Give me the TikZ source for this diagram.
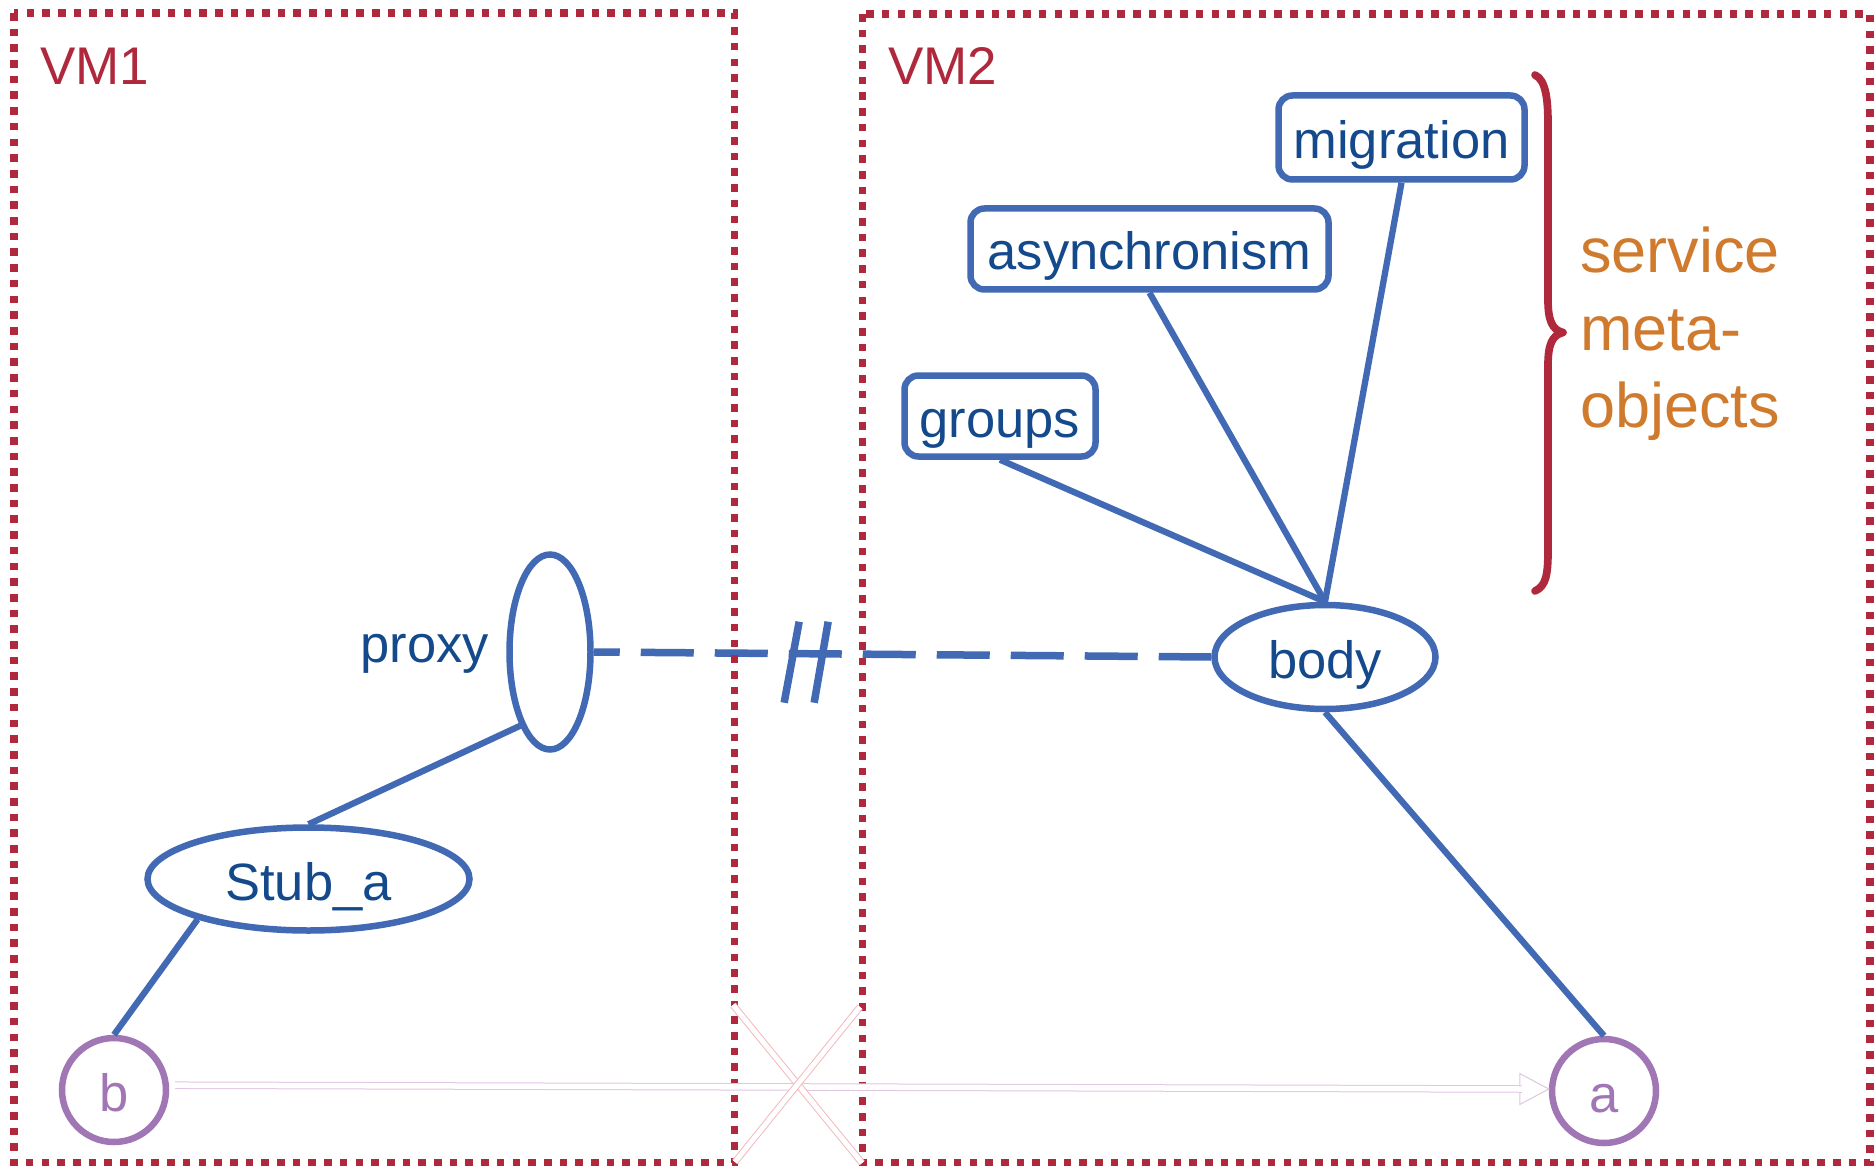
\documentclass[tikz,border=0pt]{standalone}
\usepackage{fontspec}
\setmainfont{Liberation Sans}
\usetikzlibrary{shapes.geometric,calc}

\definecolor{vmred}{RGB}{175,40,60}
\definecolor{blueline}{RGB}{66,106,180}
\definecolor{bluetext}{RGB}{20,74,140}
\definecolor{objpurple}{RGB}{160,118,180}
\definecolor{metaorange}{RGB}{208,122,46}
\definecolor{crosspink}{RGB}{245,185,190}
\definecolor{callpurple}{RGB}{224,198,226}

\begin{document}
\begin{tikzpicture}[x=1pt,y=-1pt,
  vmframe/.style={draw=vmred, line width=7.6pt, dash pattern=on 7.6pt off 8.1pt},
  vmlabel/.style={text=vmred, font=\fontsize{53}{60}\selectfont, anchor=base west, inner sep=0pt},
  plain/.style={text=bluetext, font=\fontsize{52.5}{60}\selectfont, inner sep=0pt},
  txt/.style={plain, text height=42pt, text depth=0pt},
  meta/.style={txt, draw=blueline, line width=6.5pt, rounded corners=14pt, fill=white},
  oval/.style={txt, ellipse, draw=blueline, line width=6.5pt, fill=white},
  obj/.style={circle, draw=objpurple, line width=6.5pt, text=objpurple,
    font=\fontsize{52.5}{60}\selectfont, text height=42pt, text depth=0pt,
    inner sep=0pt, minimum size=104pt},
  link/.style={draw=blueline, line width=6.3pt},
  farlink/.style={draw=blueline, line width=7.5pt, dash pattern=on 53pt off 21pt, dash phase=27pt},
  breakmark/.style={draw=blueline, line width=7.5pt},
  svc/.style={text=metaorange, font=\fontsize{63}{77}\selectfont, anchor=base west, inner sep=0pt},
  calltrace/.style={draw=callpurple, line width=1pt},
  cutmark/.style={draw=crosspink, line width=1pt, double=white, double distance=5pt},
]
\useasboundingbox[fill=white] (0,0) rectangle (1874,1166);

% service meta-objects
\node[meta, minimum width=246pt, minimum height=84pt] (migration) at (1401.5,137.5) {migration};
\node[meta, minimum width=358pt, minimum height=81pt] (async) at (1149.5,249) {asynchronism};
\node[meta, minimum width=191pt, minimum height=81pt] (groups) at (1000,416) {groups};

% active object parts
\node[oval, minimum width=221pt, minimum height=104pt] (body) at (1325,657) {body};
\node[oval, minimum width=81pt, minimum height=195pt] (proxy) at (550,652) {};
\node[plain, anchor=base east] (proxylbl) at (489,662) {proxy};
\node[oval, minimum width=322pt, minimum height=103pt] (stub) at (308.5,879) {Stub\_a};

% objects
\node[obj] (b) at (114,1090) {b};
\node[obj] (a) at (1604,1091) {a};

% solid links
\draw[link] (migration.south) -- (body.north);
\draw[link] (async.south) -- (body.north);
\draw[link] (groups.south) -- (body.north);
\draw[link] (body.south) -- (a.north);
\draw[link] (proxy.248) -- (stub.north);
\draw[link] (stub.200) -- (b.north);

% remote reference with a break
\draw[farlink] (proxy.east) -- (body.west);
\path (proxy.east) -- (body.west) coordinate[pos=0.344] (brk);
\draw[breakmark] ($(brk)+(-7,-32)$) -- ($(brk)+(-22,49)$);
\draw[breakmark] ($(brk)+(22,-32)$) -- ($(brk)+(8,49)$);

% virtual machines
\draw[vmframe] (14,13) rectangle (734.5,1163);
\draw[vmframe] (862.5,14) rectangle (1870,1163);
\node[vmlabel] (vm1) at (40,85) {VM1};
\node[vmlabel] (vm2) at (888,85) {VM2};

% direct call from b to a (hollow arrow)
\coordinate (tip) at ($(a.180)+(0,-2)$);
\draw[calltrace, fill=white] (tip) -- ++(-29,-15.5) -- ++(0,31) -- cycle;
\draw[calltrace, double=white, double distance=5.5pt, shorten <=6pt] (b.5) -- ($(tip)+(-27,0)$);

% the crossed-out passage
\coordinate (c1) at (733,1005);
\coordinate (c2) at (862,1163);
\coordinate (c3) at (860,1007);
\coordinate (c4) at (735,1162);
\draw[cutmark] (c1) -- (c2);
\draw[cutmark] (c3) -- (c4);

% brace and caption
\draw[vmred, line width=7.7pt, line cap=round, line join=round]
  (1535,75) .. controls (1546,80) and (1548,100) .. (1548,125)
  -- (1548,300) .. controls (1548,320) and (1552,330) .. (1563,332.5)
  .. controls (1552,335) and (1548,345) .. (1548,365)
  -- (1548,550) .. controls (1548,575) and (1546,586) .. (1535,591);
\node[svc] (svc1) at (1580,273) {service};
\node[svc] (svc2) at (1580,350) {meta-};
\node[svc] (svc3) at (1580,427) {objects};
\end{tikzpicture}
\end{document}
